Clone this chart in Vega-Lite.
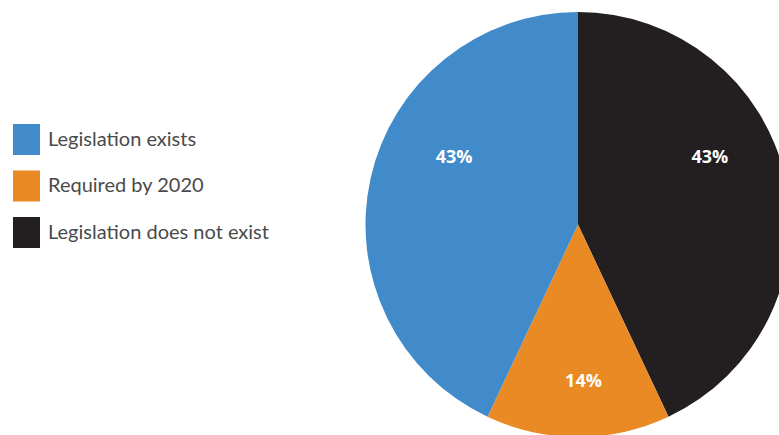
{
  "$schema": "https://vega.github.io/schema/vega-lite/v6.json",
  "width": 425,
  "height": 425,
  "autosize": "none",
  "padding": {"left": 365.5, "top": 12, "right": 0, "bottom": 0},
  "background": "white",
  "config": {"view": {"stroke": null}},
  "data": {
    "values": [
      {"category": "Legislation does not exist", "value": 0.43, "rank": 1},
      {"category": "Required by 2020", "value": 0.14, "rank": 2},
      {"category": "Legislation exists", "value": 0.43, "rank": 3}
    ]
  },
  "transform": [
    {"stack": "value", "groupby": [], "sort": [{"field": "rank", "order": "ascending"}], "as": ["v0", "v1"]},
    {"calculate": "(datum.v0 + datum.v1) / 2", "as": "mid"}
  ],
  "layer": [
    {
      "mark": {"type": "arc", "outerRadius": 212.5, "stroke": null},
      "encoding": {
        "theta": {"field": "v0", "type": "quantitative", "scale": {"domain": [0, 1]}},
        "theta2": {"field": "v1"},
        "color": {
          "field": "category",
          "type": "nominal",
          "scale": {
            "domain": ["Legislation exists", "Required by 2020", "Legislation does not exist"],
            "range": ["#418bca", "#e98a24", "#231f20"]
          },
          "legend": {
            "title": null,
            "orient": "none",
            "legendX": -354.5,
            "legendY": 112,
            "symbolType": "M-0.871,-1H0.871V1H-0.871Z",
            "symbolSize": 961,
            "symbolStrokeWidth": 0,
            "symbolOpacity": 1,
            "rowPadding": 15.5,
            "labelOffset": 6,
            "labelFont": "Lato",
            "labelFontSize": 20,
            "labelColor": "#4a4a4a",
            "labelLimit": 400
          }
        }
      }
    },
    {
      "transform": [{"filter": "datum.category !== 'Required by 2020'"}],
      "mark": {"type": "text", "radius": 131, "dx": 4, "dy": -38, "font": "Open Sans", "fontWeight": "bold", "fontSize": 18, "color": "white"},
      "encoding": {
        "theta": {"field": "mid", "type": "quantitative", "scale": {"domain": [0, 1]}},
        "text": {"field": "value", "type": "quantitative", "format": ".0%"}
      }
    },
    {
      "transform": [{"filter": "datum.category === 'Required by 2020'"}],
      "mark": {"type": "text", "radius": 157, "dx": 5.5, "font": "Open Sans", "fontWeight": "bold", "fontSize": 18, "color": "white"},
      "encoding": {
        "theta": {"field": "mid", "type": "quantitative", "scale": {"domain": [0, 1]}},
        "text": {"field": "value", "type": "quantitative", "format": ".0%"}
      }
    }
  ]
}
